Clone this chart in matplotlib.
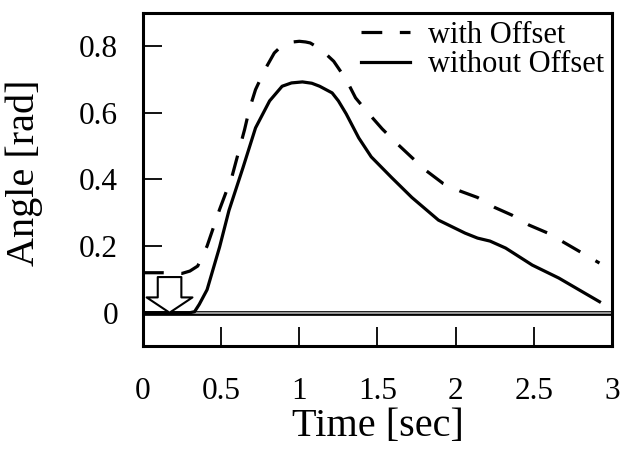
import matplotlib
matplotlib.use("Agg")
import matplotlib.pyplot as plt

plt.rcParams['font.family'] = ['Liberation Serif', 'DejaVu Serif']

# without Offset (solid)
t_plain = [0, 0.1, 0.2, 0.3, 0.33, 0.36, 0.41, 0.49, 0.55, 0.64, 0.72, 0.81, 0.89,
           0.95, 1.02, 1.08, 1.13, 1.21, 1.25, 1.30, 1.38, 1.46, 1.59, 1.72, 1.89, 2.06,
           2.14, 2.22, 2.32, 2.49, 2.66, 2.81, 2.92]
angle_plain = [0, 0, 0, 0, 0.003, 0.025, 0.069, 0.197, 0.307, 0.436, 0.555, 0.636, 0.68,
               0.69, 0.693, 0.689, 0.68, 0.66, 0.636, 0.597, 0.525, 0.468, 0.406, 0.346, 0.278, 0.239,
               0.224, 0.215, 0.194, 0.143, 0.104, 0.063, 0.033]

# with Offset (dashed)
t_offset = [0, 0.13, 0.25, 0.30, 0.35, 0.41, 0.49, 0.57, 0.65, 0.68, 0.72, 0.78, 0.84,
            0.88, 0.92, 0.96, 1.0, 1.04, 1.07, 1.14, 1.22, 1.30, 1.36, 1.44, 1.53, 1.62, 1.72,
            1.81, 1.92, 2.03, 2.14, 2.25, 2.36, 2.47, 2.59, 2.70, 2.81, 2.92]
angle_offset = [0.12, 0.12, 0.118, 0.125, 0.14, 0.20, 0.31, 0.41, 0.55, 0.61, 0.67, 0.73, 0.78,
                0.798, 0.808, 0.813, 0.815, 0.813, 0.81, 0.79, 0.755, 0.70, 0.645, 0.60, 0.552,
                0.51, 0.466, 0.427, 0.388, 0.365, 0.346, 0.316, 0.293, 0.263, 0.239, 0.209,
                0.179, 0.149]

x_ticks = [0, 0.5, 1, 1.5, 2, 2.5, 3]
x_tick_labels = ['0', '0.5', '1', '1.5', '2', '2.5', '3']
y_ticks = [0, 0.2, 0.4, 0.6, 0.8]
y_tick_labels = ['0', '0.2', '0.4', '0.6', '0.8']

fig = plt.figure(figsize=(6.23, 4.62), dpi=100)
ax = fig.add_axes([0.2295, 0.2511, 0.7528, 0.7208])

# zero line drawn as a grey double line
ax.axhline(0, color='black', linewidth=3.4, zorder=1)
ax.axhline(0, color='0.7', linewidth=1.2, zorder=1)

ax.plot(t_offset, angle_offset, color='black', linewidth=2.3,
        linestyle=(0, (6.5, 5.5)), label='with Offset', zorder=3)
ax.plot(t_plain, angle_plain, color='black', linewidth=2.3,
        label='without Offset', zorder=3)

# hollow arrow pointing at the start
ax.annotate('', xy=(0.17, 0.0), xytext=(0.17, 0.107),
            arrowprops=dict(arrowstyle='simple,head_length=1.1,head_width=3.3,tail_width=1.7',
                            mutation_scale=10, fc='white', ec='black', lw=1.5,
                            shrinkA=0, shrinkB=0), zorder=4)

ax.set_xlim(0, 3)
ax.set_ylim(-0.1, 0.9)
ax.set_xticks(x_ticks)
ax.set_xticklabels(x_tick_labels)
ax.set_yticks(y_ticks)
ax.set_yticklabels(y_tick_labels)
ax.tick_params(axis='both', direction='in', length=13.5, width=1.3, labelsize=22.5)
ax.tick_params(axis='x', pad=22)
ax.tick_params(axis='y', pad=18)

for s in ax.spines.values():
    s.set_linewidth(2.2)

ax.set_xlabel('Time [sec]', fontsize=29)
ax.set_ylabel('Angle [rad]', fontsize=29)
ax.xaxis.set_label_coords(0.5, -0.185)
ax.yaxis.set_label_coords(-0.213, 0.52)

ax.legend(loc='upper right', frameon=False, fontsize=22, handlelength=1.6,
          handletextpad=0.6, labelspacing=0.02, borderaxespad=0.1, borderpad=0.15)

fig.savefig('out.png', dpi=100)
